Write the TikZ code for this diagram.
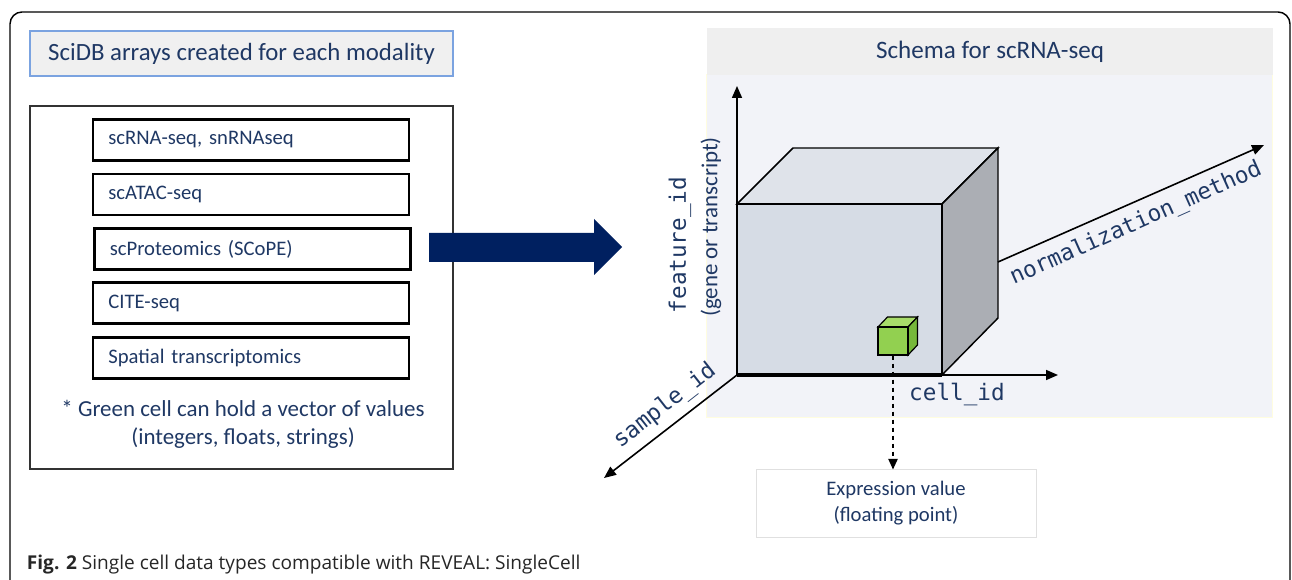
\documentclass[tikz,border=0pt]{standalone}
\usepackage{fontspec}
\setmainfont{Carlito}
\newfontfamily\monofont{DejaVu Sans Mono}
\newfontfamily\capfont{Open Sans}
\usepackage{tikz}
\usetikzlibrary{arrows.meta}

\definecolor{navytext}{HTML}{1F3864}
\definecolor{arrownavy}{HTML}{002060}
\definecolor{titleedge}{HTML}{7BA3E0}
\definecolor{titlefill}{HTML}{F0F0F0}
\definecolor{panelfill}{HTML}{F2F3F8}
\definecolor{panelhead}{HTML}{EFEFEF}
\definecolor{cubefront}{HTML}{D6DCE5}
\definecolor{cubetop}{HTML}{DFE3EA}
\definecolor{cubeside}{HTML}{ABAEB4}
\definecolor{cellfront}{HTML}{92D050}
\definecolor{celltop}{HTML}{A8DC6A}
\definecolor{cellside}{HTML}{76B83A}

\tikzset{every picture/.style={line width=0.75pt}}
\tikzset{
	modbox/.style={draw=black, line width=1.9pt, minimum height=30.75pt, text width=214pt, inner xsep=11.5pt, align=left, text=navytext, font=\fontsize{15.5}{18}\selectfont},
	axislbl/.style={text=navytext, font=\monofont\fontsize{17}{20}\selectfont},
	axisarrow/.style={line width=1.2pt, -{Triangle[length=9pt,width=7.5pt]}},
}

\begin{document}
\begin{tikzpicture}[x=0.75pt,y=0.75pt,yscale=-1,xscale=1]
	\useasboundingbox (0,0) rectangle (1292,580);
	
	%Outer frame
	\draw [line width=1.1pt, rounded corners=9pt] (10,580) -- (10,12) -- (1290,12) -- (1290,580);
	
	% Left part: modalities
	\node (arraytitle) [draw=titleedge, fill=titlefill, line width=1.2pt, minimum width=317pt, minimum height=33.75pt, text=navytext, font=\fontsize{18.6}{22}\selectfont] at (241.5,53.5) {SciDB arrays created for each modality};
	\node (modframe) [draw=black!80, line width=1.1pt, minimum width=317pt, minimum height=272pt] at (241.5,287.5) {};
	
	\node (scrna) [modbox] at (251,140) {scRNA-seq, snRNAseq};
	\node (scatac) [modbox] at (251,194.5) {scATAC-seq};
	\node (scprot) [modbox] at (252.5,249) {scProteomics (SCoPE)};
	\node (cite) [modbox] at (251,303) {CITE-seq};
	\node (spatial) [modbox] at (251,358) {Spatial transcriptomics};
	
	\node (greennote) [align=center, text=navytext, font=\fontsize{17.2}{21}\selectfont] at (243,424) {* Green cell can hold a vector of values\\(integers, floats, strings)};
	
	% Block arrow
	\draw [fill=arrownavy, draw=none] (429,233) -- (594,233) -- (594,219) -- (622,247) -- (594,275) -- (594,262) -- (429,262) -- cycle;
	
	% Right part: schema panel
	\draw [fill=panelfill, draw=yellow!12] (706,75) rectangle (1272,418);
	\node (schemahead) [fill=panelhead, minimum width=424.5pt, minimum height=35.25pt, text=navytext, font=\fontsize{18.8}{21}\selectfont] at (990,51.5) {Schema for scRNA-seq};
	
	%Cube
	\draw [fill=cubetop, line width=1.1pt] (737,204) -- (793,148) -- (998,148) -- (942,204) -- cycle;
	\draw [fill=cubeside, line width=1.1pt] (942,204) -- (998,148) -- (998,318) -- (942,375) -- cycle;
	\draw [fill=cubefront, line width=1.1pt] (737,204) rectangle (942,375);
	
	%Axes
	\coordinate (origin) at (737,375);
	\coordinate (ytip) at (737,86);
	\coordinate (xtip) at (1058,375);
	\coordinate (ztip) at (604,478);
	\coordinate (nstart) at (998,262);
	\coordinate (ntip) at (1264,145);
	\draw [axisarrow] (origin) -- (ytip);
	\draw [axisarrow] (origin) -- (xtip);
	\draw [line width=2.6pt] (origin) -- (942,375);
	\draw [axisarrow] (origin) -- (ztip);
	\draw [axisarrow] (nstart) -- (ntip);
	
	%Green cell
	\draw [fill=celltop, line width=0.9pt] (878,327) -- (887.5,317) -- (917.5,317) -- (908,327) -- cycle;
	\draw [fill=cellside, line width=0.9pt] (908,327) -- (917.5,317) -- (917.5,345) -- (908,355) -- cycle;
	\node (cell) [draw, fill=cellfront, minimum width=22.5pt, minimum height=21pt, inner sep=0pt, line width=0.9pt] at (893,341) {};
	
	\node (exprbox) [draw=black!12, fill=white, minimum width=210pt, minimum height=50.25pt, align=center, text=navytext, font=\fontsize{15.5}{19.5}\selectfont] at (896,503.5) {Expression value\\(floating point)};
	\draw [dashed, line width=1.1pt, -{Triangle[length=8pt,width=7pt]}] (cell.south) -- (cell.south |- exprbox.north);
	
	% Axis labels
	\node (featurelbl) [axislbl, rotate=90] at (680,245) {feature\_id};
	\node (genelbl) [rotate=90, text=navytext, font=\fontsize{17.2}{19}\selectfont] at (711,227) {(gene or transcript)};
	\node (normlbl) [axislbl, rotate=24] at (1136,224) {normalization\_method};
	\node (samplelbl) [axislbl, rotate=38, inner sep=1pt] at (665,406) {sample\_id};
	\node (celllbl) [axislbl] at (957,395) {cell\_id};
	
	% Caption
	\node (caption) [anchor=west, text=black!85, font=\capfont\fontsize{14.3}{17}\selectfont] at (22,565) {{\bfseries Fig. 2} Single cell data types compatible with REVEAL: SingleCell};
\end{tikzpicture}
\end{document}
